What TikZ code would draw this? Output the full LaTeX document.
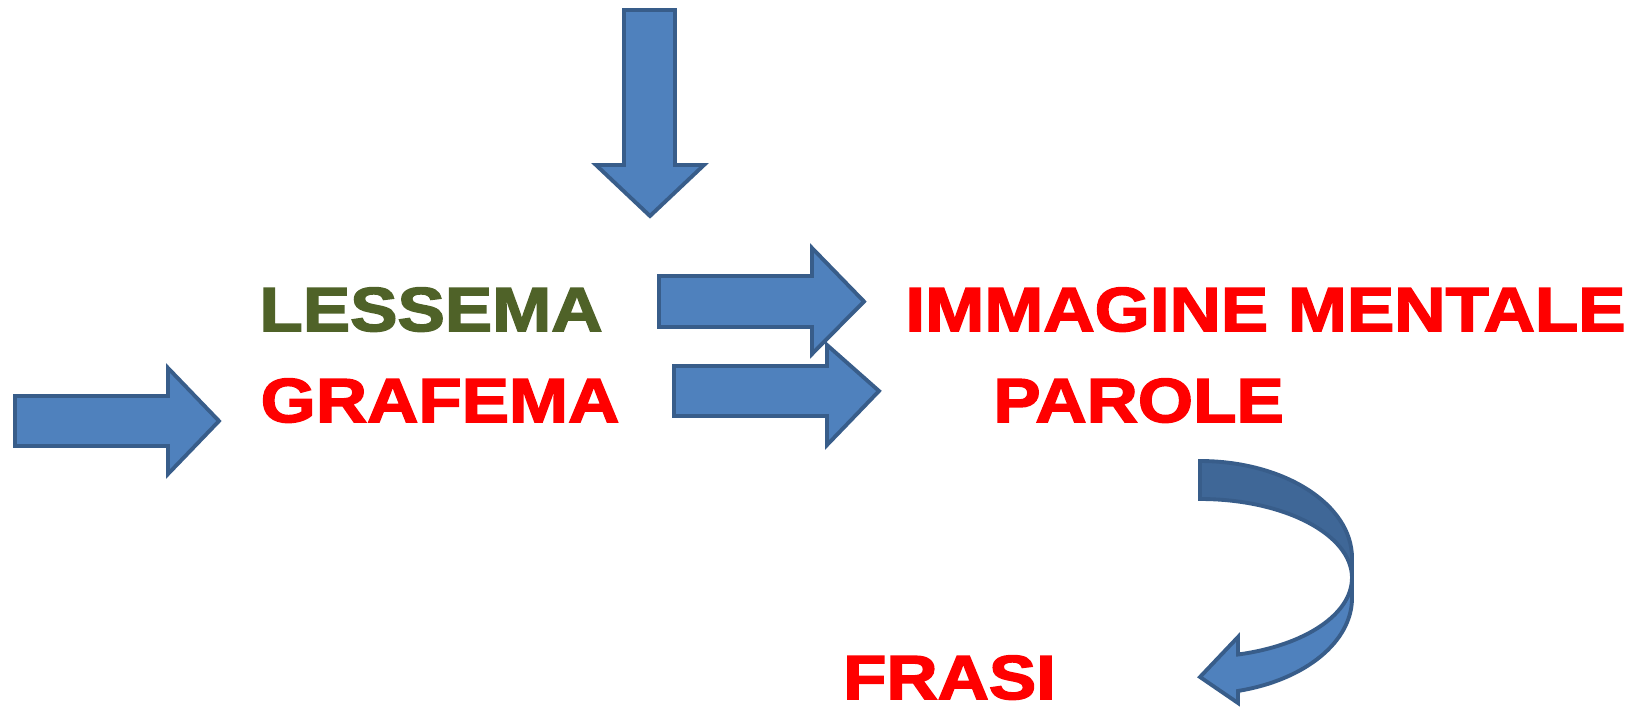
\documentclass[tikz,border=0pt]{standalone}
\usepackage{fontspec}
\setmainfont{Liberation Sans}[BoldFeatures={FakeBold=2.5,FakeStretch=1.14}]
\usepackage{tikz}
\usetikzlibrary{calc}
\definecolor{frecciablu}{HTML}{4F81BD}
\definecolor{frecciascura}{HTML}{3F6797}
\definecolor{bordoblu}{HTML}{385D8A}
\definecolor{verdescuro}{HTML}{4F6228}
\tikzset{
	freccia/.style={draw=bordoblu, fill=frecciablu, line width=1.1pt, line join=miter},
	parola/.style={font=\fontsize{17.7}{22}\selectfont\bfseries, inner sep=0pt, anchor=base},
}
\def\frecciadx(#1,#2,#3)(#4,#5,#6)(#7){\draw[freccia] (#1,#2) -- (#4,#2) -- (#4,#5) -- (#7,{(#2+#3)/2}) -- (#4,#6) -- (#4,#3) -- (#1,#3) -- cycle;}

\begin{document}
\begin{tikzpicture}[x=0.01cm, y=-0.01cm]
			%%%%% START %%%%%
			\useasboundingbox (0,0) rectangle (1652,715);
			
			% freccia in alto
			\draw[freccia] (624,10) -- (675,10) -- (675,165) -- (704,165) -- (650,216) -- (596,165) -- (624,165) -- cycle;
			
			% frecce a destra
			\frecciadx(15,396,446)(168,368,474)(219)
			\frecciadx(659,276,327)(812,248,354)(864)
			\frecciadx(674,366,416)(827,345,445)(879)
			
			% freccia curva
			\draw[freccia, fill=frecciascura] (1200,461) arc[start angle=270, end angle=360, x radius=152, y radius=97] -- (1352,578) arc[start angle=0, end angle=-90, x radius=152, y radius=79] -- cycle;
			\draw[freccia] (1352,578) -- (1352,598) arc[start angle=0, end angle=75.5, x radius=152, y radius=96] -- (1238,703) -- (1200,677) -- (1238,637) -- (1238,654.5) arc[start angle=75.5, end angle=0, x radius=152, y radius=79] -- cycle;
			
			% parole
			\node[parola, text=verdescuro] (lessema) at (431,331) {LESSEMA};
			\node[parola, text=red] (grafema) at (440,422) {GRAFEMA};
			\node[parola, text=red] (immagine) at (1265.5,331) {IMMAGINE MENTALE};
			\node[parola, text=red] (parole) at (1138.5,422) {PAROLE};
			\node[parola, text=red] (frasi) at (949.5,699) {FRASI};
			
			%%%%% END %%%%%
\end{tikzpicture}
\end{document}
